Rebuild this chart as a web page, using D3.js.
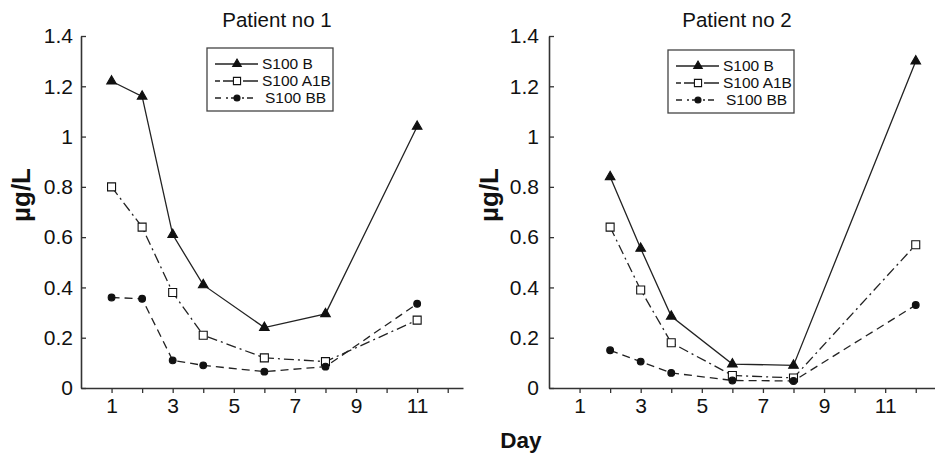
<!DOCTYPE html>
<html>
<head>
<meta charset="utf-8">
<script src="https://cdn.jsdelivr.net/npm/d3@7"></script>
<style>
  body { margin: 0; background: #fff; }
  svg { font-family: "Liberation Sans", Arial, sans-serif; }
</style>
</head>
<body>
<svg id="chart"></svg>
<script>
const width = 935;
const height = 454;

// patient 1
const days1 = [1, 2, 3, 4, 6, 8, 11];
const s100b_1 = [1.22, 1.16, 0.61, 0.41, 0.24, 0.295, 1.04];
const a1b_1 = [0.80, 0.64, 0.38, 0.21, 0.12, 0.105, 0.27];
const bb_1 = [0.36, 0.355, 0.11, 0.09, 0.065, 0.085, 0.335];

// patient 2
const days2 = [2, 3, 4, 6, 8, 12];
const s100b_2 = [0.84, 0.555, 0.285, 0.095, 0.09, 1.30];
const a1b_2 = [0.64, 0.39, 0.18, 0.05, 0.04, 0.57];
const bb_2 = [0.15, 0.105, 0.06, 0.03, 0.028, 0.33];

const seriesNames = ["S100 B", "S100 A1B", "S100 BB"];
const yTicks = [0, 0.2, 0.4, 0.6, 0.8, 1, 1.2, 1.4];
const xTicks = [1, 2, 3, 4, 5, 6, 7, 8, 9, 10, 11, 12];

const styles = [
  { dash: null, symbol: d3.symbolTriangle, size: 40, fill: "#111" },
  { dash: "10,4,2,4", symbol: d3.symbolSquare, size: 64, fill: "#fff" },
  { dash: "8,5", symbol: d3.symbolCircle, size: 36, fill: "#111" }
];

const svg = d3.select("#chart").attr("width", width).attr("height", height);

const y = d3.scaleLinear().domain([0, 1.4]).range([388, 36]);

function panel(opts) {
  const g = svg.append("g");
  const x = d3.scaleLinear().domain([0, opts.xMax]).range([opts.left, opts.right]);

  // axes
  const xAxis = g.append("g")
    .attr("transform", `translate(0,${y(0)})`)
    .call(d3.axisBottom(x).tickValues(xTicks).tickSizeInner(5).tickSizeOuter(0)
      .tickPadding(5)
      .tickFormat(d => d % 2 === 1 ? d : ""));
  const yAxis = g.append("g")
    .attr("transform", `translate(${opts.left},0)`)
    .call(d3.axisLeft(y).tickValues(yTicks).tickSizeInner(-5).tickSizeOuter(0)
      .tickPadding(opts.yPad)
      .tickFormat(d => +d.toFixed(1)));
  [xAxis, yAxis].forEach(a => {
    a.select(".domain").attr("stroke", "#333").attr("stroke-width", 1.6);
    a.selectAll(".tick line").attr("stroke", "#333").attr("stroke-width", 1.3);
    a.selectAll(".tick text").attr("fill", "#111").style("font-size", "21px");
  });

  // series
  opts.series.forEach((vals, i) => {
    const pts = opts.days.map((d, j) => [d, vals[j]]);
    const st = styles[i];
    g.append("path")
      .attr("d", d3.line().x(p => x(p[0])).y(p => y(p[1]))(pts))
      .attr("fill", "none")
      .attr("stroke", "#222")
      .attr("stroke-width", 1.3)
      .attr("stroke-dasharray", st.dash);
    g.selectAll(null).data(pts).enter().append("path")
      .attr("d", d3.symbol().type(st.symbol).size(st.size))
      .attr("transform", p => `translate(${x(p[0])},${y(p[1])})`)
      .attr("fill", st.fill)
      .attr("stroke", "#111")
      .attr("stroke-width", 1.1);
  });

  // title
  g.append("text")
    .attr("x", opts.titleX).attr("y", 27)
    .attr("text-anchor", "middle")
    .style("font-size", "20.5px")
    .attr("fill", "#111")
    .text(opts.title);

  // y label
  g.append("text")
    .attr("transform", `translate(${opts.yLabelX},195) rotate(-90)`)
    .attr("text-anchor", "middle")
    .style("font-size", "26px")
    .style("font-weight", "bold")
    .attr("fill", "#111")
    .text("µg/L");

  // legend
  const lg = g.append("g");
  lg.append("rect")
    .attr("x", opts.legX - 55).attr("y", opts.legY)
    .attr("width", 126).attr("height", 63)
    .attr("fill", "#fff").attr("stroke", "#444").attr("stroke-width", 1.3);
  seriesNames.forEach((name, i) => {
    const ly = opts.legY + 16 + i * 17;
    const st = styles[i];
    lg.append("line")
      .attr("x1", opts.legX - 47).attr("x2", opts.legX - 4)
      .attr("y1", ly).attr("y2", ly)
      .attr("stroke", "#222").attr("stroke-width", 1.3)
      .attr("stroke-dasharray", i === 0 ? null : (i === 1 ? "5,3,12,0" : "6,5,2,3"));
    lg.append("path")
      .attr("d", d3.symbol().type(st.symbol).size(st.size * 0.8))
      .attr("transform", `translate(${opts.legX - 25},${ly})`)
      .attr("fill", st.fill).attr("stroke", "#111").attr("stroke-width", 1.1);
    lg.append("text")
      .attr("x", opts.legX + (i === 2 ? 3 : 0)).attr("y", ly + 5)
      .style("font-size", "15.5px")
      .attr("fill", "#111")
      .text(name);
  });
}

panel({
  left: 81, right: 463, xMax: 12.5, yPad: 8,
  days: days1, series: [s100b_1, a1b_1, bb_1],
  title: "Patient no 1", titleX: 277, yLabelX: 30,
  legX: 262, legY: 48
});

panel({
  left: 549, right: 935, xMax: 12.63, yPad: 10,
  days: days2, series: [s100b_2, a1b_2, bb_2],
  title: "Patient no 2", titleX: 737, yLabelX: 498,
  legX: 723, legY: 50
});

svg.append("text")
  .attr("x", 521).attr("y", 448)
  .attr("text-anchor", "middle")
  .style("font-size", "22.5px")
  .style("font-weight", "bold")
  .attr("fill", "#111")
  .text("Day");
</script>
</body>
</html>
